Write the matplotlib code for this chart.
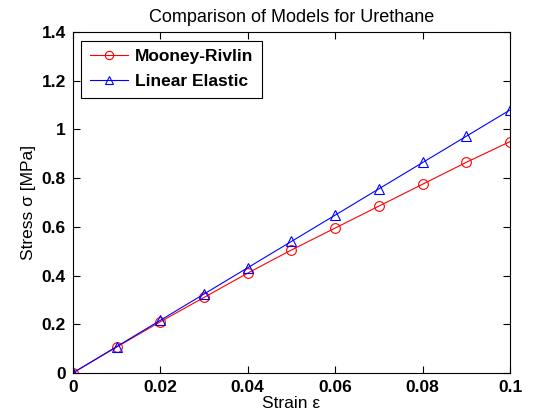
import numpy as np
import matplotlib
matplotlib.use('Agg')
import matplotlib.pyplot as plt

plt.rcParams['font.family'] = ['Liberation Sans', 'DejaVu Sans']

strain = [0, 0.01, 0.02, 0.03, 0.04, 0.05, 0.06, 0.07, 0.08, 0.09, 0.1]
mooney = [0, 0.106, 0.21, 0.31, 0.41, 0.505, 0.595, 0.685, 0.775, 0.865, 0.95]
linear = [0, 0.108, 0.216, 0.324, 0.432, 0.54, 0.648, 0.756, 0.864, 0.972, 1.08]

fig = plt.figure(figsize=(5.6, 4.2), dpi=100)
ax = fig.add_axes([0.13, 0.112, 0.781, 0.812])

ax.plot(strain, mooney, color='red', marker='o', mfc='none', ms=7, lw=0.8, mew=0.8, label='Mooney-Rivlin')
ax.plot(strain, linear, color='blue', marker='^', mfc='none', ms=7, lw=0.8, mew=0.8, label='Linear Elastic')

ax.set_xlim(0, 0.1)
ax.set_ylim(0, 1.4)
ax.set_xticks([0, 0.02, 0.04, 0.06, 0.08, 0.1])
ax.set_xticklabels(['0', '0.02', '0.04', '0.06', '0.08', '0.1'], fontweight='bold')
ax.set_yticks([0, 0.2, 0.4, 0.6, 0.8, 1, 1.2, 1.4])
ax.set_yticklabels(['0', '0.2', '0.4', '0.6', '0.8', '1', '1.2', '1.4'], fontweight='bold')
ax.tick_params(direction='in', top=True, right=True, labelsize=12.5, length=5, width=0.8, pad=5)
for s in ax.spines.values():
    s.set_linewidth(0.8)

ax.set_xlabel('Strain \u03b5', fontsize=12.5, labelpad=1)
ax.set_ylabel('Stress \u03c3 [MPa]', fontsize=12.5, labelpad=4)
ax.set_title('Comparison of Models for Urethane', fontsize=13, pad=7)

leg = ax.legend(loc='upper left', prop={'size': 12.5, 'weight': 'bold'}, fancybox=False,
                edgecolor='black', framealpha=1, handlelength=2.2, handletextpad=0.4,
                borderaxespad=0.5, labelspacing=0.55, borderpad=0.5, markerscale=0.85)
leg.get_frame().set_linewidth(0.8)

fig.savefig('out.png', dpi=100)
